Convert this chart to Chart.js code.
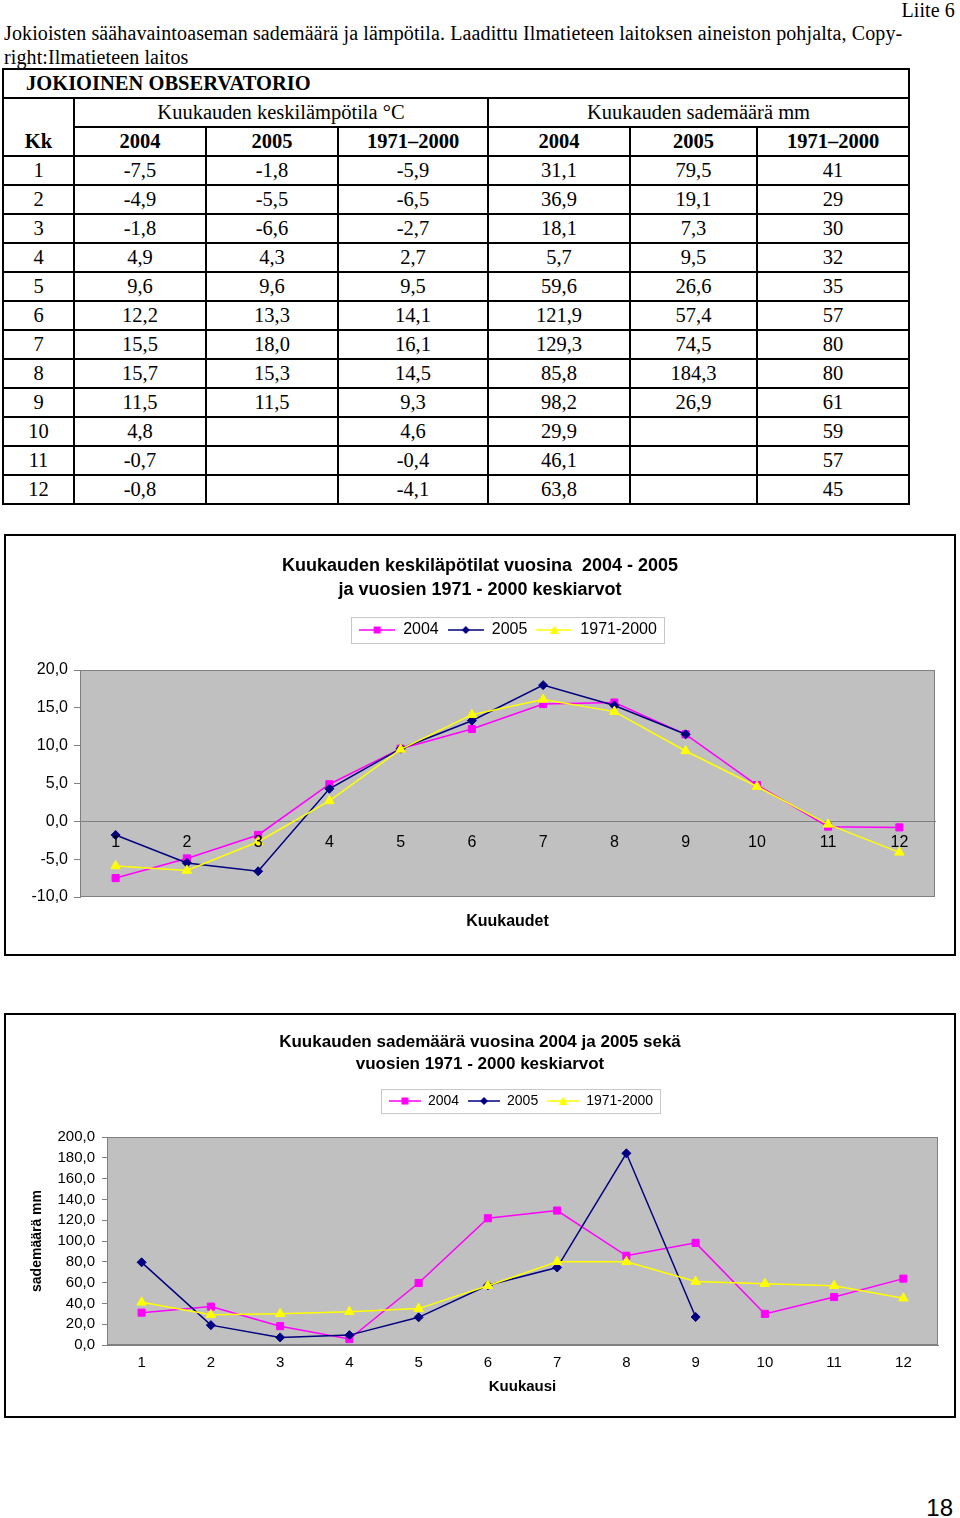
<!DOCTYPE html>
<html lang="fi">
<head>
<meta charset="utf-8">
<title>Jokioinen sademäärä ja lämpötila</title>
<script src="https://cdn.jsdelivr.net/npm/chart.js"></script>
<style>
  body { margin: 0; width: 960px; height: 1518px; position: relative; background: #fff; color: #000;
         font-family: "Liberation Serif", "Times New Roman", serif; overflow: hidden; }
  .txt { position: absolute; font-size: 20px; line-height: 24px; letter-spacing: 0.12px; white-space: nowrap; }
  #obs { position: absolute; left: 2px; top: 68px; border-collapse: collapse; table-layout: fixed; font-size: 20.5px; }
  #obs td { border: 2px solid #000; text-align: center; padding: 0; white-space: nowrap; }
  #obs tr { height: 29px; }
  #obs .head { text-align: left; padding-left: 22px; font-weight: bold; }
  #obs .b { font-weight: bold; }
  .chartbox { position: absolute; left: 4px; width: 952px; border: 2px solid #000; box-sizing: border-box; }
  .chartbox canvas { display: block; }
  .pagenum { position: absolute; right: 7px; top: 1494px; font-family: Arial, "Liberation Sans", sans-serif; font-size: 24px; }
</style>
</head>
<body>

<div class="txt" style="right:5px; top:-2px;">Liite 6</div>
<div class="txt" style="left:4px; top:21px;">Jokioisten säähavaintoaseman sademäärä ja lämpötila. Laadittu Ilmatieteen laitoksen aineiston pohjalta, Copy-</div>
<div class="txt" style="left:4px; top:45px;">right:Ilmatieteen laitos</div>

<table id="obs">
  <colgroup>
    <col style="width:71px"><col style="width:132px"><col style="width:132px"><col style="width:150px">
    <col style="width:142px"><col style="width:127px"><col style="width:152px">
  </colgroup>
  <tbody>
    <tr><td class="head" colspan="7">JOKIOINEN OBSERVATORIO</td></tr>
    <tr><td class="b" rowspan="2" style="vertical-align:bottom; padding-bottom:2px;">Kk</td>
        <td colspan="3">Kuukauden keskilämpötila °C</td><td colspan="3">Kuukauden sademäärä mm</td></tr>
    <tr class="b"><td>2004</td><td>2005</td><td>1971–2000</td><td>2004</td><td>2005</td><td>1971–2000</td></tr>
  </tbody>
</table>

<div class="chartbox" style="top:534px; height:422px;"><canvas id="tempChart" width="948" height="418"></canvas></div>
<div class="chartbox" style="top:1013px; height:405px;"><canvas id="rainChart" width="948" height="401"></canvas></div>

<div class="pagenum">18</div>

<script>
// kuukaudet
const months = ['1', '2', '3', '4', '5', '6', '7', '8', '9', '10', '11', '12'];
const seriesNames = ['2004', '2005', '1971-2000'];

// keskilämpötila °C
const temp2004 = [-7.5, -4.9, -1.8, 4.9, 9.6, 12.2, 15.5, 15.7, 11.5, 4.8, -0.7, -0.8];
const temp2005 = [-1.8, -5.5, -6.6, 4.3, 9.6, 13.3, 18.0, 15.3, 11.5, null, null, null];
const tempNorm = [-5.9, -6.5, -2.7, 2.7, 9.5, 14.1, 16.1, 14.5, 9.3, 4.6, -0.4, -4.1];

// sademäärä mm
const rain2004 = [31.1, 36.9, 18.1, 5.7, 59.6, 121.9, 129.3, 85.8, 98.2, 29.9, 46.1, 63.8];
const rain2005 = [79.5, 19.1, 7.3, 9.5, 26.6, 57.4, 74.5, 184.3, 26.9, null, null, null];
const rainNorm = [41, 29, 30, 32, 35, 57, 80, 80, 61, 59, 57, 45];

// akselien jaot
const tempTicks = [-10, -5, 0, 5, 10, 15, 20];
const rainTicks = [0, 20, 40, 60, 80, 100, 120, 140, 160, 180, 200];

const seriesColors = ['#ff00ff', '#000080', '#ffff00'];
const seriesMarkers = ['rect', 'rectRot', 'triangle'];
const markerSizes = [5, 4.5, 5.5];

const fmt = (v) => v === null ? '' : v.toFixed(1).replace('.', ',');

// taulukon rivit
const tbody = document.querySelector('#obs tbody');
months.forEach((m, i) => {
    const tr = document.createElement('tr');
    tr.innerHTML =
    `
    <td>${m}</td>
    <td>${fmt(temp2004[i])}</td>
    <td>${fmt(temp2005[i])}</td>
    <td>${fmt(tempNorm[i])}</td>
    <td>${fmt(rain2004[i])}</td>
    <td>${fmt(rain2005[i])}</td>
    <td>${rainNorm[i]}</td>
    `
    tbody.appendChild(tr);
});

Chart.defaults.font.family = 'Arial, "Liberation Sans", Helvetica, sans-serif';
Chart.defaults.color = '#000';

const makeDatasets = (values) => values.map((data, i) => ({
    label: seriesNames[i],
    data: data,
    xAxisID: 'x',
    yAxisID: 'y',
    borderColor: seriesColors[i],
    backgroundColor: seriesColors[i],
    pointBackgroundColor: seriesColors[i],
    pointBorderColor: seriesColors[i],
    pointStyle: seriesMarkers[i],
    pointRadius: markerSizes[i],
    pointBorderWidth: 1,
    borderWidth: 1.5,
    tension: 0,
    order: 3 - i,
    clip: false
}));

// viiva + merkki selitteeseen
const legendIcon = (i, w) => {
    const c = document.createElement('canvas');
    c.width = w; c.height = 12;
    const g = c.getContext('2d');
    const m = w / 2;
    g.strokeStyle = seriesColors[i];
    g.fillStyle = seriesColors[i];
    g.lineWidth = 1.5;
    g.beginPath(); g.moveTo(0, 6); g.lineTo(w, 6); g.stroke();
    g.beginPath();
    if (seriesMarkers[i] === 'rect') g.rect(m - 3.5, 2.5, 7, 7);
    else if (seriesMarkers[i] === 'rectRot') { g.moveTo(m, 2); g.lineTo(m + 4, 6); g.lineTo(m, 10); g.lineTo(m - 4, 6); g.closePath(); }
    else { g.moveTo(m, 1.5); g.lineTo(m + 4.5, 10); g.lineTo(m - 4.5, 10); g.closePath(); }
    g.fill();
    return c;
};

const legendOptions = (size, w) => ({
    labels: {
        font: { size: size },
        color: '#000',
        padding: 9,
        usePointStyle: true,
        pointStyleWidth: w,
        generateLabels: (chart) => chart.data.datasets.map((ds, i) => ({
            text: ds.label,
            pointStyle: legendIcon(i, w),
            datasetIndex: i,
            hidden: false,
            fillStyle: seriesColors[i],
            strokeStyle: seriesColors[i],
            lineWidth: 0,
            fontColor: '#000'
        }))
    }
});

// harmaa piirtoalue
const plotBg = {
    id: 'plotBg',
    beforeDraw(chart) {
        const { ctx, chartArea: a } = chart;
        ctx.save();
        ctx.fillStyle = '#c0c0c0';
        ctx.fillRect(a.left, a.top, a.width, a.height);
        ctx.strokeStyle = '#808080';
        ctx.lineWidth = 1;
        ctx.strokeRect(a.left + 0.5, a.top + 0.5, a.width - 1, a.height - 1);
        ctx.restore();
    }
};

// kehys selitteen ympärille
const legendFrame = {
    id: 'legendFrame',
    afterDraw(chart) {
        const boxes = chart.legend.legendHitBoxes;
        if (!boxes || !boxes.length) return;
        const left = Math.min(...boxes.map(b => b.left)) - 8;
        const right = Math.max(...boxes.map(b => b.left + b.width)) + 7;
        const top = boxes[0].top - 5;
        const h = boxes[0].height + 10;
        const ctx = chart.ctx;
        ctx.save();
        ctx.strokeStyle = '#c8c8c8';
        ctx.lineWidth = 1;
        ctx.strokeRect(Math.round(left) + 0.5, Math.round(top) + 0.5, Math.round(right - left), Math.round(h));
        ctx.restore();
    }
};

// selitteen sijainti: lisätilaa alle, siirto oikealle
const legendPlace = (extra, dx) => ({
    id: 'legendPlace',
    beforeInit(chart) {
        const fit = chart.legend.fit;
        chart.legend.fit = function () { fit.call(this); this.height += extra; };
    },
    afterLayout(chart) {
        chart.legend.left += dx;
        chart.legend.right += dx;
    }
});

const dummyRight = (w) => ({
    type: 'linear', position: 'right', display: true,
    grid: { display: false }, border: { display: false }, ticks: { display: false },
    afterFit: (s) => { s.width = w; }
});

// lämpötilat
new Chart(document.getElementById('tempChart'), {
    type: 'line',
    data: { labels: months, datasets: makeDatasets([temp2004, temp2005, tempNorm]) },
    options: {
        responsive: false,
        animation: false,
        layout: { padding: 0 },
        plugins: {
            title: {
                display: true,
                text: ['Kuukauden keskiläpötilat vuosina  2004 - 2005', 'ja vuosien 1971 - 2000 keskiarvot'],
                font: { size: 18, weight: 'bold', lineHeight: 24 / 18 },
                color: '#000',
                padding: { top: 18, bottom: 11 }
            },
            legend: legendOptions(16, 36),
            tooltip: { enabled: false }
        },
        scales: {
            x: {
                position: { y: 0 },
                offset: true,
                grid: { display: false, drawTicks: false },
                border: { color: '#808080' },
                ticks: { padding: 12, font: { size: 16 }, color: '#000', z: 1 }
            },
            x2: {
                type: 'category', position: 'bottom', labels: months,
                grid: { display: false }, border: { display: false }, ticks: { display: false },
                title: { display: true, text: 'Kuukaudet', font: { size: 16, weight: 'bold' }, color: '#000', padding: { top: 0, bottom: 23 } },
                afterFit: (s) => { s.height = 57; }
            },
            y: {
                min: tempTicks[0],
                max: tempTicks[tempTicks.length - 1],
                ticks: { stepSize: tempTicks[1] - tempTicks[0], autoSkip: false, padding: 6, font: { size: 16 }, color: '#000',
                         callback: (v) => fmt(v) },
                grid: { drawOnChartArea: false, tickLength: 6, color: '#808080' },
                border: { color: '#808080' },
                afterFit: (s) => { s.width = 74; }
            },
            y2: dummyRight(19)
        }
    },
    plugins: [plotBg, legendFrame, legendPlace(22, 28)]
});

// sademäärät
new Chart(document.getElementById('rainChart'), {
    type: 'line',
    data: { labels: months, datasets: makeDatasets([rain2004, rain2005, rainNorm]) },
    options: {
        responsive: false,
        animation: false,
        layout: { padding: 0 },
        plugins: {
            title: {
                display: true,
                text: ['Kuukauden sademäärä vuosina 2004 ja 2005 sekä', 'vuosien 1971 - 2000 keskiarvot'],
                font: { size: 17, weight: 'bold', lineHeight: 22 / 17 },
                color: '#000',
                padding: { top: 16, bottom: 10 }
            },
            legend: legendOptions(14, 32),
            tooltip: { enabled: false }
        },
        scales: {
            x: {
                offset: true,
                grid: { display: false, drawTicks: false },
                border: { color: '#808080' },
                ticks: { padding: 9, font: { size: 15 }, color: '#000' },
                title: { display: true, text: 'Kuukausi', font: { size: 15, weight: 'bold' }, color: '#000', padding: { top: 0, bottom: 20 } },
                afterFit: (s) => { s.height = 71; }
            },
            y: {
                min: rainTicks[0],
                max: rainTicks[rainTicks.length - 1],
                ticks: { stepSize: rainTicks[1] - rainTicks[0], autoSkip: false, padding: 7, font: { size: 15 }, color: '#000',
                         callback: (v) => fmt(v) },
                grid: { drawOnChartArea: false, tickLength: 5, color: '#808080' },
                border: { color: '#808080' },
                title: { display: true, text: 'sademäärä mm', font: { size: 14, weight: 'bold' }, color: '#000', padding: { top: 23, bottom: 0 } },
                afterFit: (s) => { s.width = 101; }
            },
            y2: dummyRight(16)
        }
    },
    plugins: [plotBg, legendFrame, legendPlace(19, 41)]
});
</script>
</body>
</html>
